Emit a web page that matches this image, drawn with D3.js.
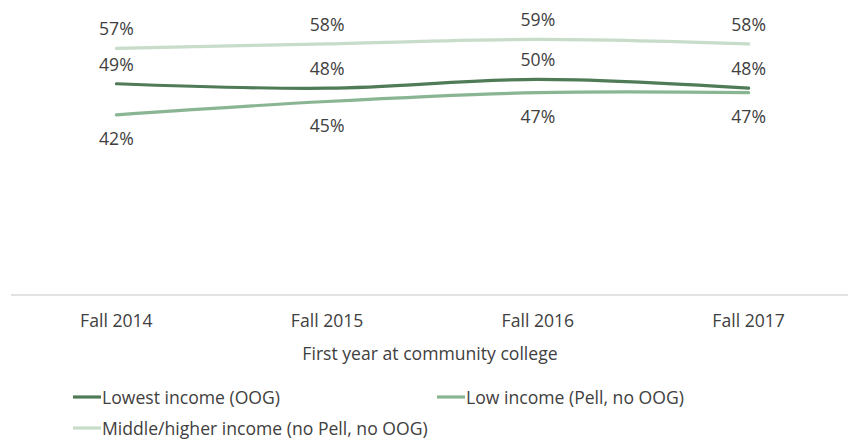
<!DOCTYPE html>
<html>
<head>
<meta charset="utf-8">
<script src="https://cdn.jsdelivr.net/npm/d3@7"></script>
<style>
  html, body { margin: 0; padding: 0; background: #ffffff; }
  svg { display: block; font-family: "Open Sans", "Noto Sans", sans-serif; }
</style>
</head>
<body>
<svg id="chart" width="848" height="440"></svg>
<script>
// First-year cohorts at community college
const categories = ["Fall 2014", "Fall 2015", "Fall 2016", "Fall 2017"];

// Share of students (%) by income group
const lowestIncome = [49, 48, 50, 48];
const lowIncome = [42, 45, 47, 47];
const middleHigherIncome = [57, 58, 59, 58];

const seriesNames = [
  "Lowest income (OOG)",
  "Low income (Pell, no OOG)",
  "Middle/higher income (no Pell, no OOG)"
];
const seriesColors = ["#4f7b57", "#8ab593", "#c7dcc9"];
// label placement relative to each series' points
const labelSide = ["above", "below", "above"];

const axisTitle = "First year at community college";

const series = [lowestIncome, lowIncome, middleHigherIncome].map((values, i) => ({
  name: seriesNames[i],
  color: seriesColors[i],
  side: labelSide[i],
  values: values.map((v, j) => ({ cat: categories[j], value: v }))
}));

const svg = d3.select("#chart");
const textColor = "#404040";
const fontSize = 17.6;

const x = d3.scaleBand().domain(categories).range([11, 854]).padding(0);
const y = d3.scaleLinear().domain([0, 60]).range([301, 35]);
const cx = d => x(d) + x.bandwidth() / 2;

// Category axis
const axisY = 295;
const xAxis = d3.axisBottom(x).tickSize(0).tickPadding(20);
const gx = svg.append("g").attr("transform", `translate(0,${axisY})`).call(xAxis);
gx.select(".domain").remove();
gx.selectAll("text")
  .attr("fill", textColor)
  .attr("font-size", fontSize)
  .attr("font-family", "Open Sans, sans-serif");
svg.append("line")
  .attr("x1", 11).attr("x2", 848)
  .attr("y1", axisY).attr("y2", axisY)
  .attr("stroke", "#d9d9d9").attr("stroke-width", 1.3);

svg.append("text")
  .attr("x", 430).attr("y", 353)
  .attr("text-anchor", "middle")
  .attr("dominant-baseline", "central")
  .attr("font-size", fontSize)
  .attr("fill", textColor)
  .text(axisTitle);

// Smoothed lines
const line = d3.line()
  .x(d => cx(d.cat))
  .y(d => y(d.value))
  .curve(d3.curveCatmullRom.alpha(0.5));

const drawOrder = [2, 1, 0];
drawOrder.forEach(i => {
  const s = series[i];
  svg.append("path")
    .datum(s.values)
    .attr("d", line)
    .attr("fill", "none")
    .attr("stroke", s.color)
    .attr("stroke-width", 3.2)
    .attr("stroke-linecap", "round")
    .attr("stroke-linejoin", "round");
});

// Data labels
series.forEach(s => {
  svg.append("g").selectAll("text")
    .data(s.values)
    .join("text")
    .attr("x", d => cx(d.cat))
    .attr("y", d => y(d.value) + (s.side === "above" ? -20 : 23))
    .attr("text-anchor", "middle")
    .attr("dominant-baseline", "central")
    .attr("font-size", fontSize)
    .attr("fill", textColor)
    .text(d => d3.format(".0f")(d.value) + "%");
});

// Legend
const legendPos = [
  { x: 73, y: 397 },
  { x: 437, y: 397 },
  { x: 73, y: 428 }
];
series.forEach((s, i) => {
  const g = svg.append("g").attr("transform", `translate(${legendPos[i].x},${legendPos[i].y})`);
  g.append("line")
    .attr("x1", 0).attr("x2", 28)
    .attr("y1", 0).attr("y2", 0)
    .attr("stroke", s.color).attr("stroke-width", 3.2);
  g.append("text")
    .attr("x", 29).attr("y", 0)
    .attr("dominant-baseline", "central")
    .attr("font-size", fontSize)
    .attr("fill", textColor)
    .text(s.name);
});
</script>
</body>
</html>
